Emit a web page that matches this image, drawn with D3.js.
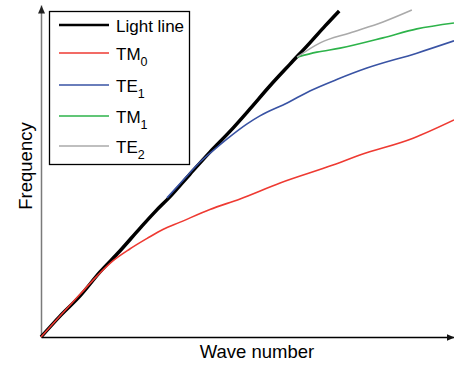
<!DOCTYPE html>
<html><head><meta charset="utf-8">
<script src="https://cdn.jsdelivr.net/npm/d3@7"></script>
<style>body{margin:0;background:#fff}svg{display:block}</style>
</head><body>
<svg id="c" width="454" height="367"></svg>
<script>
// Series names (main part, subscript)
const seriesNames = [["Light line",""],["TM","0"],["TE","1"],["TM","1"],["TE","2"]];
const seriesColors = ["#000000","#ee3a32","#3953a4","#2db34a","#aaaaaa"];
const axisLabels = {x:"Wave number", y:"Frequency"};

// [wave number, frequency] in arbitrary units (0..100)
const lightLine = [[0,0],[4.6,6.3],[9.4,12.3],[14.3,19.6],[19.1,25.9],[24.0,32.8],[27.6,37.7],[31.2,42.2],[36.1,49.1],[40.9,55.7],[45.8,62.0],[50.6,68.7],[55.4,75.6],[60.3,82.2],[65.1,88.6],[68.8,93.7],[72.2,98.2]];
const tm0 = [[0,0],[4.6,6.3],[9.4,12.8],[13.6,18.4],[17.4,22.9],[21.5,26.5],[25.7,29.7],[29.5,32.4],[33.7,34.6],[40.9,38.4],[48.2,41.6],[57.9,46.4],[70.7,51.8],[77.2,54.8],[90.1,59.9],[100,65.4]];
const te1 = [[30.5,41.9],[34.9,47.9],[38.5,52.7],[42.1,56.6],[45.0,59.6],[49.9,64.2],[53.0,66.6],[59.6,70.5],[65.1,74.1],[71.9,77.7],[78.9,81.0],[91.0,85.5],[100,89.2]];
const tm1 = [[62.0,84.3],[66.8,85.8],[72.4,87.0],[82.8,90.1],[91.0,92.8],[100,94.6]];
const te2 = [[62.0,84.3],[67.6,88.6],[74.8,91.6],[82.8,94.9],[89.8,98.5]];
const allSeries = [lightLine, tm0, te1, tm1, te2];
const seriesWidths = [3.5,1.6,1.6,1.6,1.6];

const svg = d3.select("#c");
const x = d3.scaleLinear().domain([0,100]).range([41,454]);
const y = d3.scaleLinear().domain([0,100]).range([337,5]);
const font = "'Liberation Sans', Arial, Helvetica, sans-serif";

const defs = svg.append("defs");
function marker(id, color){
  defs.append("marker").attr("id",id).attr("markerUnits","userSpaceOnUse")
    .attr("markerWidth",9).attr("markerHeight",8).attr("refX",8).attr("refY",3.5)
    .attr("orient","auto")
    .append("path").attr("d","M0,0L8,3.5L0,7Z").attr("fill",color);
}
marker("ax","#111");
marker("ay","#222");

// axes (no ticks)
const gx = svg.append("g").attr("transform",`translate(0,${y(0)})`)
  .call(d3.axisBottom(x).ticks(0).tickSizeOuter(0));
gx.select(".domain").attr("stroke","#000").attr("stroke-width",1.5).attr("marker-end","url(#ax)");
const gy = svg.append("g").attr("transform",`translate(${x(0)},0)`)
  .call(d3.axisLeft(y).ticks(0).tickSizeOuter(0));
gy.select(".domain").attr("stroke","#7a7a7a").attr("stroke-width",1.5).attr("marker-end","url(#ay)");

// lines
const line = d3.line().x(d=>x(d[0])).y(d=>y(d[1])).curve(d3.curveMonotoneX);
allSeries.forEach((s,i)=>{
  svg.append("path").datum(s).attr("d",line).attr("fill","none")
    .attr("stroke",seriesColors[i]).attr("stroke-width",seriesWidths[i])
    .attr("stroke-linejoin","round").attr("stroke-linecap","butt");
});

// axis labels
svg.append("text").attr("x",257).attr("y",358).attr("text-anchor","middle")
  .attr("font-family",font).attr("font-size",18.5).text(axisLabels.x);
svg.append("text").attr("transform","translate(32,166) rotate(-90)").attr("text-anchor","middle")
  .attr("font-family",font).attr("font-size",18.5).text(axisLabels.y);

// legend
const lg = svg.append("g");
lg.append("rect").attr("x",49.5).attr("y",11.5).attr("width",140).attr("height",153)
  .attr("fill","#fff").attr("stroke","#000").attr("stroke-width",1.3);
const rowY = [25, 53, 85, 116, 146];
seriesNames.forEach((n,i)=>{
  lg.append("line").attr("x1",59).attr("x2",109).attr("y1",rowY[i]).attr("y2",rowY[i])
    .attr("stroke",seriesColors[i]).attr("stroke-width",i===0?2.5:1.6);
  const t = lg.append("text").attr("x",116).attr("y",rowY[i]+7)
    .attr("font-family",font).attr("font-size",17);
  t.append("tspan").text(n[0]);
  if(n[1]) t.append("tspan").attr("dy",6).attr("font-size",12.5).text(n[1]);
});
</script>
</body></html>
